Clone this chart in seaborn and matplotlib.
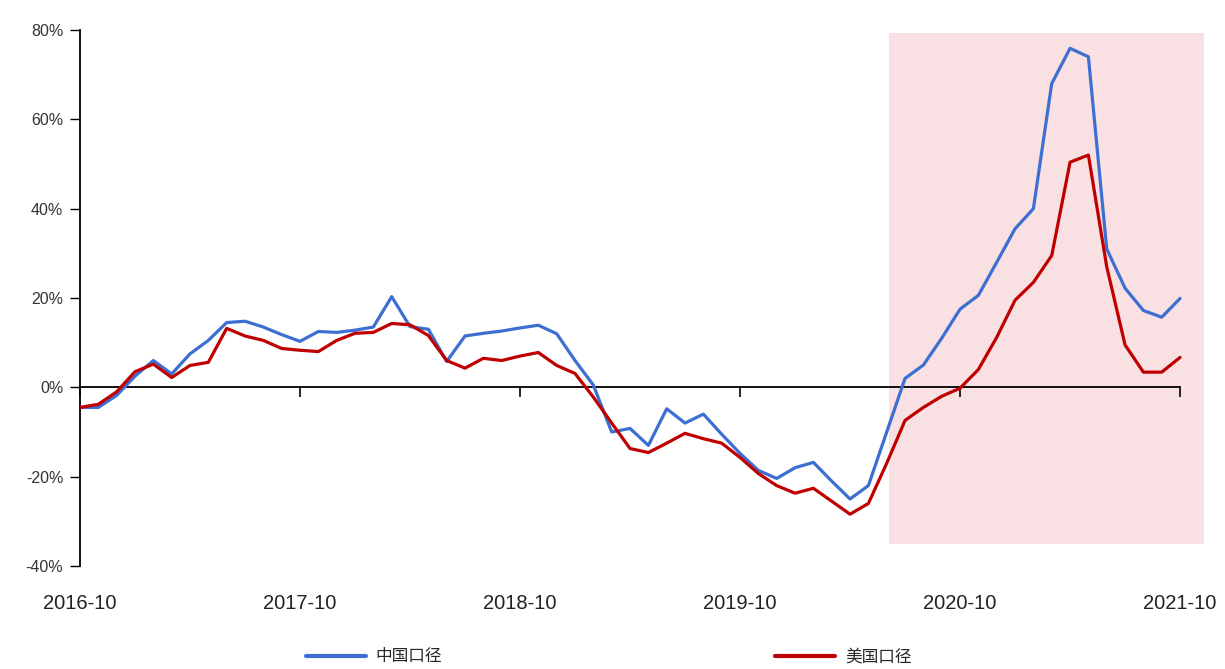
import matplotlib
matplotlib.use("Agg")
import matplotlib.pyplot as plt
import pandas as pd
import seaborn as sns
from matplotlib.lines import Line2D

# ---------------- data ----------------
months = pd.period_range("2016-10", "2021-10", freq="M").strftime("%Y-%m").tolist()

china = [-4.5, -4.5, -1.8, 2.5, 6.0, 3.0, 7.5, 10.5, 14.5, 14.8,
         13.5, 11.8, 10.3, 12.5, 12.3, 12.8, 13.5, 20.3, 13.6, 13.0,
         5.8, 11.5, 12.1, 12.6, 13.3, 13.9, 12.0, 6.0, 0.5, -10.0,
         -9.2, -13.0, -4.8, -8.0, -6.0, -10.5, -14.8, -18.6, -20.4, -18.0,
         -16.8, -21.0, -25.0, -22.0, -10.0, 2.0, 5.0, 11.0, 17.5, 20.6,
         28.0, 35.5, 40.0, 68.0, 75.9, 74.0, 31.0, 22.2, 17.2, 15.7,
         19.9]

usa = [-4.5, -3.8, -1.0, 3.5, 5.2, 2.2, 4.9, 5.6, 13.2, 11.5,
       10.5, 8.7, 8.3, 8.0, 10.5, 12.1, 12.3, 14.3, 14.0, 11.6,
       6.0, 4.3, 6.5, 6.0, 7.0, 7.8, 4.9, 3.1, -2.2, -8.0,
       -13.7, -14.6, -12.5, -10.3, -11.5, -12.5, -15.7, -19.3, -22.0, -23.7,
       -22.6, -25.5, -28.4, -26.0, -17.0, -7.4, -4.5, -2.0, -0.2, 4.0,
       11.2, 19.5, 23.5, 29.5, 50.4, 52.0, 27.0, 9.5, 3.4, 3.4,
       6.7]

series_names = ["中国口径", "美国口径"]
series_colors = ["#3C6FD1", "#C00000"]
tick_labels = ["2016-10", "2017-10", "2018-10", "2019-10", "2020-10", "2021-10"]
y_ticks = [-40, -20, 0, 20, 40, 60, 80]
shade_start = "2020-06"

# ---------------- frame ----------------
idx = list(range(len(months)))
df = pd.DataFrame({
    "idx": idx * 2,
    "month": months * 2,
    "value": china + usa,
    "series": [series_names[0]] * len(months) + [series_names[1]] * len(months),
})

sns.set_theme(style="white")
plt.rcParams["font.family"] = ["Liberation Sans", "DejaVu Sans"]

fig = plt.figure(figsize=(12.25, 6.69), dpi=100)
ax = fig.add_axes([80 / 1225, 1 - 566 / 669, (1205 - 80) / 1225, (566 - 30) / 669])

# shaded period
s0 = months.index(shade_start) + 0.1
ax.fill_between([s0, len(months) + 0.3], -35, 79.4, color="#F9E1E3", lw=0, zorder=0)

sns.lineplot(data=df, x="idx", y="value", hue="series", palette=series_colors,
             linewidth=2.3, ax=ax, legend=False, zorder=3)

ax.set_xlim(0, len(months) - 1 + 1.36)
ax.set_ylim(-40, 80)

# y axis
ax.set_yticks(y_ticks)
ax.set_yticklabels([f"{v}%" for v in y_ticks], fontsize=11.5, color="#333333")
ax.tick_params(axis="y", direction="out", length=7, width=1, color="black", left=True, pad=5)
ax.spines["left"].set_color("black")
ax.spines["left"].set_linewidth(1.3)
ax.spines["top"].set_visible(False)
ax.spines["right"].set_visible(False)

# zero line with ticks
tick_pos = [months.index(t) for t in tick_labels]
ax.spines["bottom"].set_position(("data", 0))
ax.spines["bottom"].set_bounds(0, len(months) - 1)
ax.spines["bottom"].set_color("black")
ax.spines["bottom"].set_linewidth(1.3)
ax.set_xticks(tick_pos)
ax.tick_params(axis="x", direction="out", length=7, width=1.2, color="black",
               bottom=True, labelbottom=False)
ax.set_xlabel("")
ax.set_ylabel("")
ax.grid(False)

# x labels at the bottom
sec = ax.secondary_xaxis("bottom")
sec.set_xticks(tick_pos)
sec.set_xticklabels(tick_labels, fontsize=14.5, color="#222222")
sec.tick_params(length=0, pad=20)
sec.spines["bottom"].set_visible(False)

# legend
handles = [Line2D([0], [0], color=c, lw=3) for c in series_colors]
fig.legend(handles, series_names, loc="center", bbox_to_anchor=(0.497, 0.018), ncol=2,
           frameon=False, handlelength=3.6, columnspacing=20.0, handletextpad=0.6,
           prop={"family": ["Noto Sans CJK SC", "DejaVu Sans"], "size": 12})

fig.savefig("out.png", dpi=100)
